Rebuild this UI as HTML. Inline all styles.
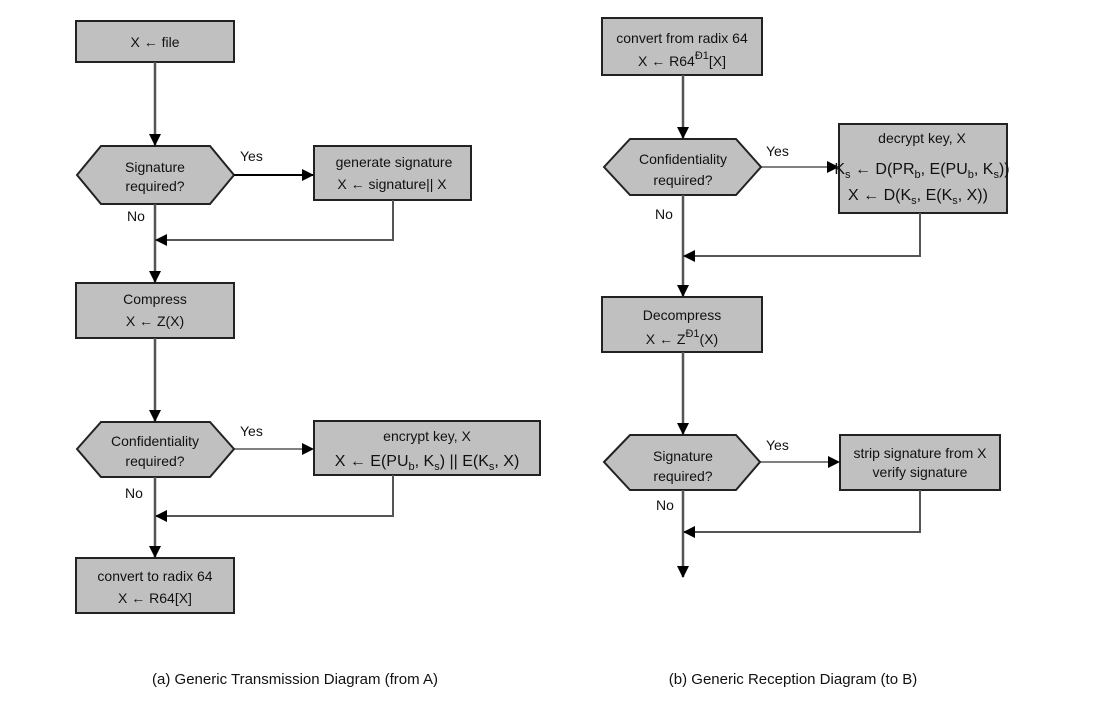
<!DOCTYPE html>
<html><head><meta charset="utf-8"><style>
html,body{margin:0;padding:0;background:#fff;width:1102px;height:704px;overflow:hidden}
svg{display:block}
text{font-family:"Liberation Sans","DejaVu Sans",sans-serif;font-size:14px;fill:#111}
</style></head><body>
<svg width="1102" height="704" viewBox="0 0 1102 704">
<defs>
<marker id="a" markerWidth="12" markerHeight="12" refX="11" refY="6" orient="auto" markerUnits="userSpaceOnUse"><path d="M0,0 L12,6 L0,12 z" fill="#000"/></marker>
</defs>
<g fill="#c0c0c0" stroke="#222" stroke-width="2">
<rect x="76" y="21" width="158" height="41"/>
<polygon points="77,175 101,146 210,146 234,175 210,204 101,204"/>
<rect x="314" y="146" width="157" height="54"/>
<rect x="76" y="283" width="158" height="55"/>
<polygon points="77,449 101,422 210,422 234,449 210,477 101,477"/>
<rect x="314" y="421" width="226" height="54"/>
<rect x="76" y="558" width="158" height="55"/>
<rect x="602" y="18" width="160" height="57"/>
<polygon points="604,167 630,139 736,139 761,167 736,195 630,195"/>
<rect x="839" y="124" width="168" height="89"/>
<rect x="602" y="297" width="160" height="55"/>
<polygon points="604,462 630,435 736,435 760,462 736,490 630,490"/>
<rect x="840" y="435" width="160" height="55"/>
</g>
<g stroke="#555" stroke-width="2.5" fill="none">
<line x1="155" y1="62" x2="155" y2="145" marker-end="url(#a)"/>
<line x1="155" y1="204" x2="155" y2="282" marker-end="url(#a)"/>
<line x1="155" y1="338" x2="155" y2="421" marker-end="url(#a)"/>
<line x1="155" y1="477" x2="155" y2="557" marker-end="url(#a)"/>
<line x1="683" y1="75" x2="683" y2="138" marker-end="url(#a)"/>
<line x1="683" y1="195" x2="683" y2="296" marker-end="url(#a)"/>
<line x1="683" y1="352" x2="683" y2="434" marker-end="url(#a)"/>
<line x1="683" y1="490" x2="683" y2="577" marker-end="url(#a)"/>
</g>
<g stroke="#555" stroke-width="2" fill="none">
<polyline points="393,200 393,240 156,240" marker-end="url(#a)"/>
<polyline points="393,475 393,516 156,516" marker-end="url(#a)"/>
<polyline points="920,213 920,256 684,256" marker-end="url(#a)"/>
<polyline points="920,490 920,532 684,532" marker-end="url(#a)"/>
</g>
<g stroke="#000" stroke-width="2" fill="none">
<line x1="234" y1="175" x2="313" y2="175" marker-end="url(#a)"/>
</g>
<g stroke="#000" stroke-width="1" fill="none">
<line x1="234" y1="449" x2="313" y2="449" marker-end="url(#a)"/>
<line x1="761" y1="167" x2="838" y2="167" marker-end="url(#a)"/>
<line x1="760" y1="462" x2="839" y2="462" marker-end="url(#a)"/>
</g>
<g text-anchor="middle">
<text x="155" y="47">X ← file</text>
<text x="155" y="172">Signature</text><text x="155" y="191">required?</text>
<text x="394" y="167">generate signature</text><text x="392" y="189">X ← signature|| X</text>
<text x="155" y="304">Compress</text><text x="155" y="326">X ← Z(X)</text>
<text x="155" y="446">Confidentiality</text><text x="155" y="466">required?</text>
<text x="427" y="441">encrypt key, X</text>
<text x="427" y="466" style="font-size:16px">X ← E(PU<tspan font-size="11" dy="4">b</tspan><tspan dy="-4">, K</tspan><tspan font-size="11" dy="4">s</tspan><tspan dy="-4">) || E(K</tspan><tspan font-size="11" dy="4">s</tspan><tspan dy="-4">, X)</tspan></text>
<text x="155" y="581">convert to radix 64</text><text x="155" y="603">X ← R64[X]</text>
<text x="682" y="43">convert from radix 64</text><text x="682" y="66">X ← R64<tspan font-size="11" dy="-7">Ð1</tspan><tspan dy="7">[X]</tspan></text>
<text x="683" y="164">Confidentiality</text><text x="683" y="185">required?</text>
<text x="922" y="143">decrypt key, X</text>
<text x="922" y="174" style="font-size:16px">K<tspan font-size="11" dy="4">s</tspan><tspan dy="-4"> ← D(PR</tspan><tspan font-size="11" dy="4">b</tspan><tspan dy="-4">, E(PU</tspan><tspan font-size="11" dy="4">b</tspan><tspan dy="-4">, K</tspan><tspan font-size="11" dy="4">s</tspan><tspan dy="-4">))</tspan></text>
<text x="918" y="200" style="font-size:16px">X ← D(K<tspan font-size="11" dy="4">s</tspan><tspan dy="-4">, E(K</tspan><tspan font-size="11" dy="4">s</tspan><tspan dy="-4">, X))</tspan></text>
<text x="682" y="320">Decompress</text><text x="682" y="344">X ← Z<tspan font-size="11" dy="-7">Ð1</tspan><tspan dy="7">(X)</tspan></text>
<text x="683" y="461">Signature</text><text x="683" y="481">required?</text>
<text x="920" y="458">strip signature from X</text><text x="920" y="477">verify signature</text>
<text x="295" y="684" style="font-size:15px">(a) Generic Transmission Diagram (from A)</text>
<text x="793" y="684" style="font-size:15px">(b) Generic Reception Diagram (to B)</text>
</g>
<text x="240" y="161">Yes</text><text x="127" y="221">No</text>
<text x="240" y="436">Yes</text><text x="125" y="498">No</text>
<text x="766" y="156">Yes</text><text x="655" y="219">No</text>
<text x="766" y="450">Yes</text><text x="656" y="510">No</text>
</svg>
</body></html>
